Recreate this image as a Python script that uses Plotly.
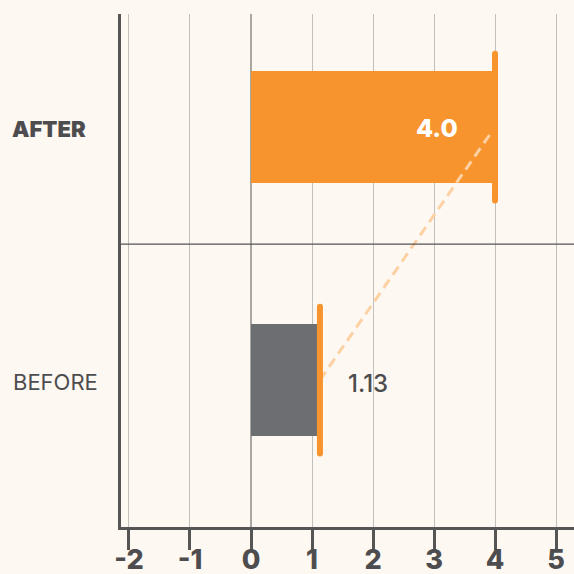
import plotly.graph_objects as go

# Data
categories = ["BEFORE", "AFTER"]
value_text = ["1.13", "4.0"]
values = [float(t) for t in value_text]
bar_colors = ["#6d6e71", "#f7942d"]
label_colors = ["#4d4d4f", "#ffffff"]
x_ticks = [-2, -1, 0, 1, 2, 3, 4, 5]
x_tick_text = ["-2", "-1", "0", "1", "2", "3", "4", "5"]

BG = "#fdf8f1"
INK = "#4d4d4f"
ORANGE = "#f7942d"
PEACH = "#fdd1a3"
FONT = "Inter"

rows = list(range(len(categories)))

fig = go.Figure()

# Horizontal bars
fig.add_trace(go.Bar(
    y=rows, x=values, orientation="h",
    marker=dict(color=bar_colors, line=dict(width=0)),
    width=0.443, hoverinfo="skip", showlegend=False,
))

# Dashed connector between the two bar ends
fig.add_trace(go.Scatter(
    x=values, y=rows, mode="lines",
    line=dict(color=PEACH, width=3, dash="10px,6px"),
    hoverinfo="skip", showlegend=False,
))

# Orange end caps with rounded tips
cap_half = 0.29
for r, v in zip(rows, values):
    fig.add_trace(go.Scatter(
        x=[v, v], y=[r - cap_half, r + cap_half], mode="lines+markers",
        line=dict(color=ORANGE, width=6),
        marker=dict(color=ORANGE, size=6, line=dict(width=0)),
        hoverinfo="skip", showlegend=False,
    ))

# Value labels
fig.add_annotation(x=values[1], y=rows[1], text=value_text[1],
                   xanchor="right", xshift=-35, yshift=-1, showarrow=False,
                   font=dict(family=FONT, size=25, color=label_colors[1], weight=800))
fig.add_annotation(x=values[0], y=rows[0], text=value_text[0],
                   xanchor="left", xshift=26, yshift=-3, showarrow=False,
                   font=dict(family=FONT, size=24, color=label_colors[0], weight=500))

# Category labels
fig.add_annotation(x=-0.245, xref="paper", y=rows[1], text=categories[1],
                   xanchor="left", yshift=-2, showarrow=False,
                   font=dict(family=FONT, size=22, color=INK, weight=900))
fig.add_annotation(x=-0.243, xref="paper", y=rows[0], text=categories[0],
                   xanchor="left", yshift=-2, showarrow=False,
                   font=dict(family=FONT, size=22, color=INK))

# Divider between the two rows
fig.add_shape(type="line", xref="paper", x0=0, x1=1, yref="y", y0=0.5375, y1=0.5375,
              line=dict(color="#555555", width=1.2), layer="above")

fig.update_layout(
    width=574, height=574,
    margin=dict(l=121, r=0, t=14, b=47, autoexpand=False),
    paper_bgcolor=BG, plot_bgcolor=BG,
    bargap=0,
    xaxis=dict(
        range=[-2.131, 5.295],
        tickvals=x_ticks, ticktext=x_tick_text,
        showgrid=True, gridcolor="#c2c0bc", gridwidth=1,
        zeroline=True, zerolinecolor="#a9a7a4", zerolinewidth=2,
        showline=True, linecolor="#555555", linewidth=3,
        ticks="outside", ticklen=20, tickwidth=3, tickcolor="#555555",
        ticklabelstandoff=-13,
        tickfont=dict(family=FONT, size=27, color=INK, weight=800),
        automargin=False, fixedrange=True,
    ),
    yaxis=dict(
        range=[-0.581, 1.447],
        showticklabels=False, showgrid=False, zeroline=False,
        showline=True, linecolor="#555555", linewidth=3,
        ticks="", automargin=False, fixedrange=True,
    ),
)

fig.write_html("out.html")
